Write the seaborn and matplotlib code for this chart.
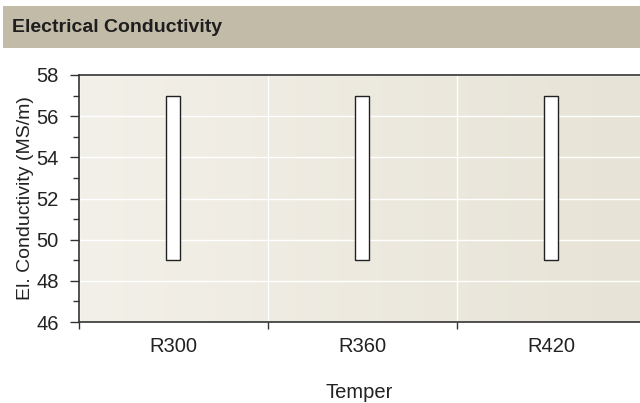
import numpy as np
import pandas as pd
import matplotlib
matplotlib.use("Agg")
import matplotlib.pyplot as plt
import seaborn as sns
from matplotlib.patches import Rectangle

categories = ["R300", "R360", "R420"]
low_values = [49, 49, 49]
high_values = [57, 57, 57]
y_ticks = [46, 48, 50, 52, 54, 56, 58]

sns.set_theme(style="white")
plt.rcParams['font.family'] = ['Liberation Sans', 'DejaVu Sans']

df = pd.DataFrame({"Temper": categories,
                   "low": low_values,
                   "span": [h - l for h, l in zip(high_values, low_values)]})

W, H = 640, 403
fig = plt.figure(figsize=(W / 100, H / 100), dpi=100)

# title bar
fig.patches.append(Rectangle((3 / W, 1 - 48 / H), 1 - 3 / W, 42 / H,
                             transform=fig.transFigure, facecolor="#c2bba8",
                             edgecolor="none", zorder=0))
fig.text(12 / W, 1 - 28 / H, "Electrical Conductivity", fontsize=14,
         fontweight="bold", color="#1e1e1e", va="center", ha="left")

ax = fig.add_axes([79 / W, 1 - 322 / H, 1 - 79 / W, 247 / H])

# gradient background
grad = np.linspace(0, 1, 256).reshape(1, -1)
cmap = matplotlib.colors.LinearSegmentedColormap.from_list("bg", ["#f3f0e9", "#e7e3d6"])
ax.imshow(grad, extent=[0, 1, 0, 1], transform=ax.transAxes, aspect="auto",
          cmap=cmap, zorder=0)

sns.barplot(data=df, x="Temper", y="span", bottom=df["low"], ax=ax,
            color="white", edgecolor="#222222", linewidth=1.0, width=0.074,
            zorder=3)

ax.set_xlim(-0.5, 2.47)
ax.set_ylim(46, 58)
ax.set_yticks(y_ticks)
ax.set_yticks(np.arange(47, 58, 2), minor=True)
ax.tick_params(axis="y", which="major", direction="out", length=6.5, width=1,
               color="#333333", labelsize=14.5, labelcolor="#222222", left=True, pad=8)
ax.tick_params(axis="y", which="minor", direction="out", length=4.3, width=1,
               color="#333333", left=True)

ax.set_xticks([-0.5, 0.5, 1.5])
ax.set_xticklabels([])
ax.set_xticks(range(len(categories)), minor=True)
ax.set_xticklabels(categories, minor=True)
ax.tick_params(axis="x", which="major", direction="out", length=5, width=1,
               color="#333333", bottom=True)
ax.tick_params(axis="x", which="minor", length=0, labelsize=14.5,
               labelcolor="#222222", pad=11)

ax.grid(True, axis="y", which="major", color="white", linewidth=1.0, zorder=1)
ax.grid(True, axis="x", which="major", color="white", linewidth=1.0, zorder=1)
ax.set_axisbelow(True)

for s in ["left", "bottom", "top"]:
    ax.spines[s].set_visible(True)
    ax.spines[s].set_color("#333333")
    ax.spines[s].set_linewidth(1.2)
ax.spines["right"].set_visible(False)

ax.set_ylabel("El. Conductivity (MS/m)", fontsize=14, color="#222222", labelpad=2)
ax.set_xlabel("Temper", fontsize=14.5, color="#222222", labelpad=19)

fig.savefig("out.png", dpi=100)
